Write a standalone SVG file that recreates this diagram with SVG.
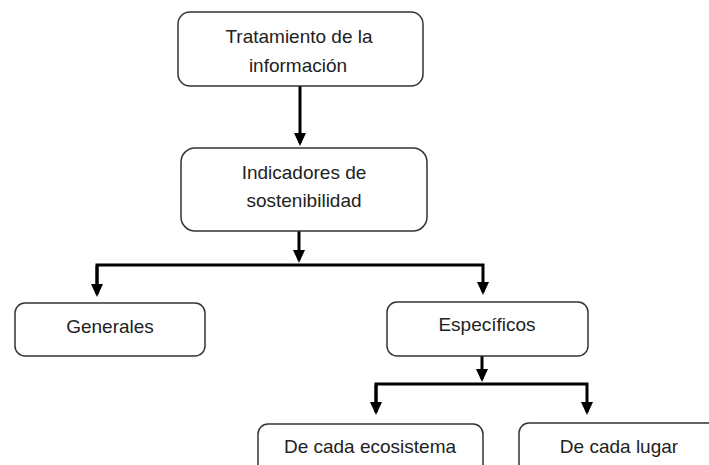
<svg xmlns="http://www.w3.org/2000/svg" width="709" height="465" viewBox="0 0 709 465">
<style>
.box{fill:#fff;stroke:#333;stroke-width:1.5}
.t{font-family:"Liberation Sans",Arial,sans-serif;font-size:19px;fill:#222;text-anchor:middle}
.c{fill:none;stroke:#000;stroke-width:3}
</style>
<defs>
<marker id="ah" markerUnits="userSpaceOnUse" markerWidth="13" markerHeight="12" viewBox="0 0 13 12" refX="10" refY="6" orient="auto">
<path d="M0,0 L13,6 L0,12 Z" fill="#000"/>
</marker>
</defs>
<rect width="709" height="465" fill="#fff"/>
<g id="connectors">
<path class="c" d="M300,86 V143" marker-end="url(#ah)"/>
<path class="c" d="M299,231 V260" marker-end="url(#ah)"/>
<path class="c" d="M97,294 V265 H483 V292" marker-end="url(#ah)"/>
<path class="c" d="M97,266 V294" marker-end="url(#ah)"/>
<path class="c" d="M482,356 V379" marker-end="url(#ah)"/>
<path class="c" d="M376,412 V384 H587 V412" marker-end="url(#ah)"/>
<path class="c" d="M376,385 V412" marker-end="url(#ah)"/>
</g>
<g id="n1">
<rect class="box" x="178" y="12" width="245" height="74" rx="12"/>
<text class="t" x="299" y="43">Tratamiento de la</text>
<text class="t" x="298" y="72">información</text>
</g>
<g id="n2">
<rect class="box" x="181" y="148" width="246" height="83" rx="14"/>
<text class="t" x="304" y="179">Indicadores de</text>
<text class="t" x="304" y="207">sostenibilidad</text>
</g>
<g id="n3">
<rect class="box" x="15" y="303" width="190" height="53" rx="10"/>
<text class="t" x="110" y="333">Generales</text>
</g>
<g id="n4">
<rect class="box" x="387" y="302" width="201" height="54" rx="10"/>
<text class="t" x="487" y="331">Específicos</text>
</g>
<g id="n5">
<rect class="box" x="258" y="424" width="225" height="60" rx="10"/>
<text class="t" x="370" y="453">De cada ecosistema</text>
</g>
<g id="n6">
<rect class="box" x="519" y="423" width="220" height="60" rx="10"/>
<text class="t" x="619" y="453">De cada lugar</text>
</g>
</svg>
